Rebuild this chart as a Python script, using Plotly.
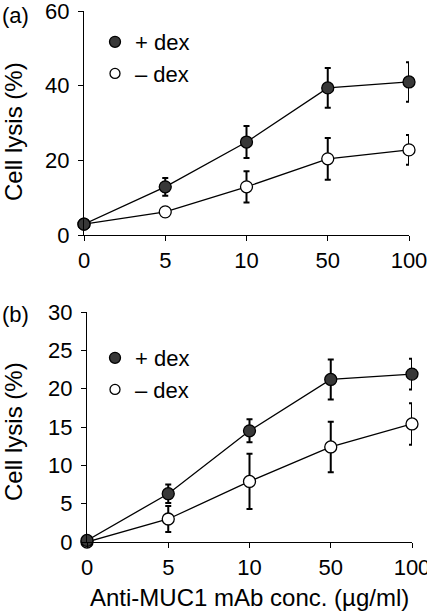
import plotly.graph_objects as go

conc = ["0", "5", "10", "50", "100"]

# Panel (a)
a_plus = [2.9, 12.9, 24.9, 39.4, 41.0]
a_plus_err = [0.6, 2.4, 4.3, 5.3, 5.3]
a_minus = [2.9, 6.2, 12.9, 20.4, 22.8]
a_minus_err = [0.5, 0.6, 4.2, 5.6, 4.0]

# Panel (b)
b_plus = [0.2, 6.3, 14.5, 21.2, 21.9]
b_plus_err = [0.1, 1.2, 1.5, 2.6, 2.0]
b_minus = [0.0, 3.0, 7.9, 12.4, 15.4]
b_minus_err = [0.1, 1.7, 3.6, 3.3, 2.7]

a_ticks = [0, 20, 40, 60]
b_ticks = [0, 5, 10, 15, 20, 25, 30]

FONT = "Arial, 'Liberation Sans', Helvetica, sans-serif"
FILL = "#383838"

fig = go.Figure()


def add_panel(xa, ya, plus, plus_err, minus, minus_err):
    for vals, errs, fill in ((minus, minus_err, "white"), (plus, plus_err, FILL)):
        fig.add_trace(go.Scatter(
            x=conc, y=vals, xaxis=xa, yaxis=ya, mode="lines+markers",
            line=dict(color="black", width=1.3),
            marker=dict(size=12, color=fill, line=dict(color="black", width=1.3)),
            error_y=dict(type="data", array=errs, visible=True, color="black",
                         thickness=2, width=3),
            cliponaxis=False, showlegend=False,
        ))


add_panel("x", "y", a_plus, a_plus_err, a_minus, a_minus_err)
add_panel("x2", "y2", b_plus, b_plus_err, b_minus, b_minus_err)

# legend-only traces
for lg in ("legend", "legend2"):
    fig.add_trace(go.Scatter(x=[None], y=[None], mode="markers", name="+ dex",
                             marker=dict(size=11, color=FILL, line=dict(color="black", width=1.3)),
                             legend=lg))
    fig.add_trace(go.Scatter(x=[None], y=[None], mode="markers", name="– dex",
                             marker=dict(size=10, color="white", line=dict(color="black", width=1.3)),
                             legend=lg))

W, H = 427, 612

xcommon = dict(type="category", range=[0, 4], showline=True, linecolor="black", linewidth=1.3,
               ticks="outside", ticklen=5, tickcolor="black", tickwidth=1.3, automargin=False,
               showgrid=False, zeroline=False, tickfont=dict(size=22, color="black"),
               ticklabelstandoff=0, ticklabeloverflow="allow")
ycommon = dict(showline=True, linecolor="black", linewidth=1.3, automargin=False,
               ticks="outside", ticklen=5, tickcolor="black", tickwidth=1.3,
               showgrid=False, zeroline=False, tickfont=dict(size=22, color="black"),
               ticklabelstandoff=4, ticklabeloverflow="allow")

fig.update_layout(
    width=W, height=H,
    margin=dict(l=0, r=0, t=0, b=0, autoexpand=False),
    paper_bgcolor="white", plot_bgcolor="white",
    font=dict(family=FONT, color="black", size=22),
    xaxis=dict(domain=[84 / W, 409 / W], anchor="y", **xcommon),
    yaxis=dict(domain=[1 - 235 / H, 1 - 11 / H], anchor="x", range=[0, 60],
               tickvals=a_ticks, **ycommon),
    xaxis2=dict(domain=[87 / W, 412 / W], anchor="y2", **xcommon),
    yaxis2=dict(domain=[1 - 542 / H, 1 - 312 / H], anchor="x2", range=[0, 30],
                tickvals=b_ticks, **ycommon),
    legend=dict(x=95 / W, y=1 - 21 / H, xanchor="left", yanchor="top",
                bgcolor="rgba(0,0,0,0)", font=dict(size=22), itemwidth=30,
                tracegroupgap=0),
    legend2=dict(x=95 / W, y=1 - 337 / H, xanchor="left", yanchor="top",
                 bgcolor="rgba(0,0,0,0)", font=dict(size=22), itemwidth=30,
                 tracegroupgap=0),
    annotations=[
        dict(text="(a)", x=0, y=1 - 15 / H, xref="paper", yref="paper",
             xanchor="left", yanchor="middle", showarrow=False, font=dict(size=22)),
        dict(text="(b)", x=0, y=1 - 315 / H, xref="paper", yref="paper",
             xanchor="left", yanchor="middle", showarrow=False, font=dict(size=22)),
        dict(text="Cell lysis (%)", x=13 / W, y=1 - 132 / H, xref="paper", yref="paper",
             xanchor="center", yanchor="middle", textangle=-90, showarrow=False,
             font=dict(size=24)),
        dict(text="Cell lysis (%)", x=13 / W, y=1 - 432 / H, xref="paper", yref="paper",
             xanchor="center", yanchor="middle", textangle=-90, showarrow=False,
             font=dict(size=24)),
        dict(text="Anti-MUC1 mAb conc. (µg/ml)", x=249 / W, y=1 - 597 / H,
             xref="paper", yref="paper", xanchor="center", yanchor="middle",
             showarrow=False, font=dict(size=24)),
    ],
)

fig.write_html("out.html", config={"displayModeBar": False},
               post_script="document.body.style.margin='0';")
